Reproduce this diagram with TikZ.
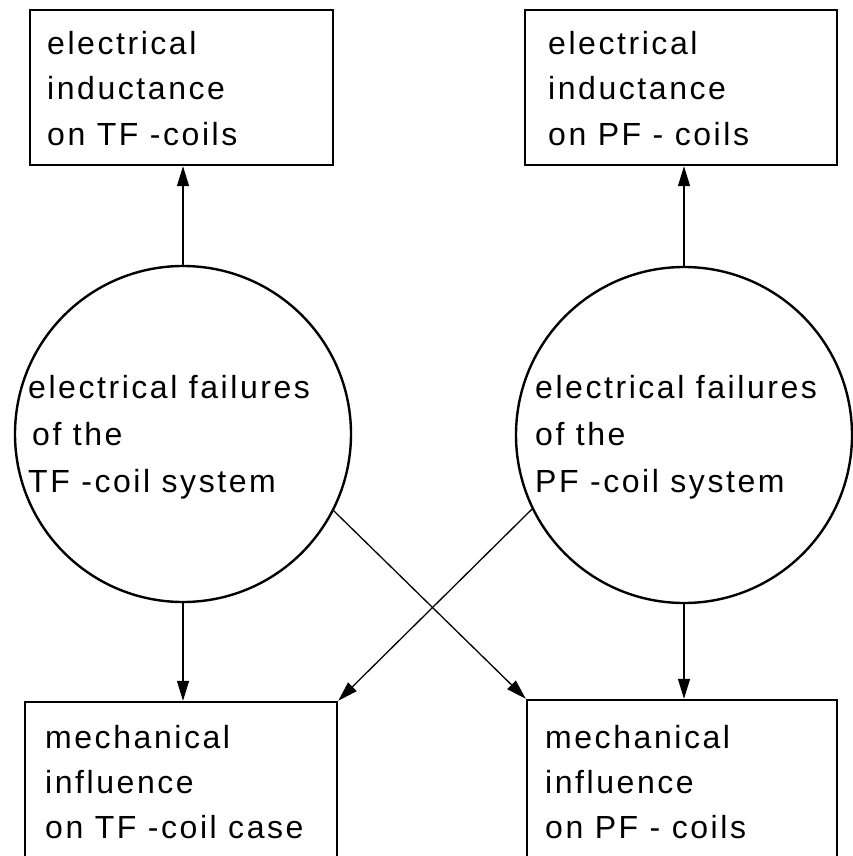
\documentclass[tikz,border=0pt]{standalone}
\usepackage{fontspec}
\setmainfont{Liberation Sans}[LetterSpace=8]
\usetikzlibrary{arrows.meta}
\begin{document}
\begin{tikzpicture}[x=1pt,y=-1pt,
  box/.style={draw,line width=2.4pt,rectangle,inner sep=0pt},
  circ/.style={draw,line width=2.4pt,circle,inner sep=0pt,minimum size=336pt},
  txt/.style={align=left,inner sep=0pt,anchor=base west,font=\fontsize{32}{45}\selectfont},
  ctxt/.style={txt,font=\fontsize{32}{47}\selectfont},
  conn/.style={line width=1.3pt,-{Triangle[length=20pt,width=12pt]}}]
\useasboundingbox (0,0) rectangle (853,856);
\clip (0,0) rectangle (853,856);
% boxes
\node[box,minimum width=303pt,minimum height=155pt] (tl) at (181.5,87.5) {};
\node[box,minimum width=312pt,minimum height=155pt] (tr) at (681,87.5) {};
\node[box,minimum width=312pt,minimum height=180pt] (bl) at (181,792) {};
\node[box,minimum width=310pt,minimum height=180pt] (br) at (682,790) {};
% circles
\node[circ] (cl) at (183,434) {};
\node[circ] (cr) at (684,435) {};
% texts
\node[txt] (ttl) at (47,145) {electrical\\inductance\\on TF -coils};
\node[txt] (ttr) at (548,145) {electrical\\inductance\\on PF - coils};
\node[ctxt] (tcl) at (28,492) {electrical failures\\\hspace*{4pt}of the\\TF -coil system};
\node[ctxt] (tcr) at (535,492) {electrical failures\\of the\\PF -coil system};
\node[txt] (tbl) at (45,838) {mechanical\\influence\\on TF -coil case};
\node[txt] (tbr) at (545,838) {mechanical\\influence\\on PF - coils};
% connectors
\draw[conn] (cl.north) -- (cl.north |- tl.south);
\draw[conn] (cr.north) -- (tr.south -| cr.north);
\draw[conn] (cl.south) -- (cl.south |- bl.north);
\draw[conn] (cr.south) -- (cr.south |- br.north);
\draw[conn] (cl.-27.5) -- (br.north west);
\draw[conn] (cr.206.6) -- (bl.north east);
\end{tikzpicture}
\end{document}
